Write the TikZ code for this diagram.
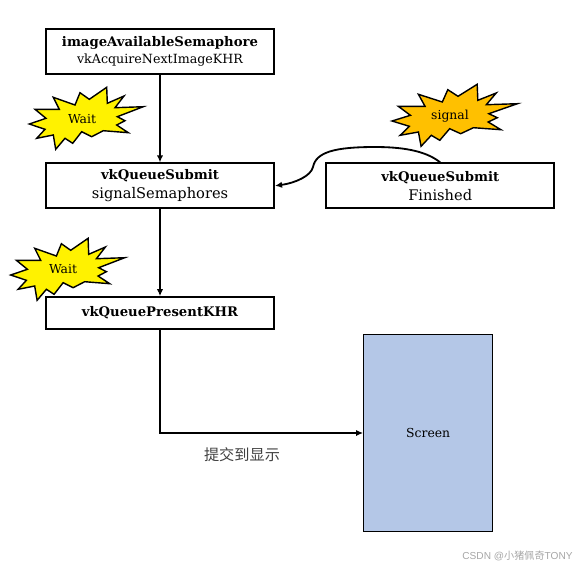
\documentclass[tikz,border=0pt]{standalone}
\usepackage{fontspec}
\usetikzlibrary{arrows.meta}
\setmainfont{DejaVu Serif}
\newfontfamily\cjk{Noto Sans CJK SC}
\newfontfamily\wmfont{Liberation Sans}
\definecolor{signalfill}{RGB}{255,192,0}
\definecolor{screenfill}{RGB}{180,199,231}
\tikzset{
    stepbox/.style={draw, line width=1.4pt, inner sep=0pt, align=center, fill=white, minimum width=5.7cm, font=\fontsize{9.4}{13.2}\selectfont},
    flow/.style={line width=1.3pt, -{Latex[length=5pt,width=4.5pt]}},
    burst/.style={draw=black, line width=1pt},
    burstlabel/.style={font=\fontsize{8.8}{10}\selectfont}
}
\newcommand{\burstshape}{(-52.7,5) -- (-36,-0.7) -- (-47,-9.7) -- (-22.7,-9.7) -- (-28.7,-21.7) -- (-7,-14)
    -- (-2,-26.3) -- (7.3,-19.7) -- (24.7,-31.7) -- (25.3,-15.7) -- (42,-23) -- (33,-11.3) -- (61.3,-12.3)
    -- (35.3,-2.3) -- (43,1.7) -- (34.7,6) -- (46.3,13.7) -- (21.3,11.7) -- (9.7,17.7) -- (-0.3,12.7)
    -- (-9.3,24.3) -- (-17,19.3) -- (-26.3,30.3) -- (-28.7,16) -- (-45.3,19.3) -- (-37,10.3) -- cycle}
\begin{document}
\begin{tikzpicture}[x=0.025cm, y=-0.025cm]
    \useasboundingbox (0,0) rectangle (576,567);
    % stars sit under the boxes
    \draw[burst, fill=yellow, shift={(82,119)}] \burstshape;
    \draw[burst, fill=yellow, shift={(63.4,270)}] \burstshape;
    \draw[burst, fill=signalfill, shift={(450,116)}, xscale=1.1] \burstshape;
    \node[burstlabel] (waitone) at (82,119.5) {Wait};
    \node[burstlabel] (waittwo) at (63,269.5) {Wait};
    \node[burstlabel] (signal) at (450,116.5) {signal};
    % boxes
    \node[stepbox, minimum height=1.12cm] (acquire) at (160,51.2) {\textbf{imageAvailableSemaphore}\\[-1.5pt]{\fontsize{9}{10.5}\selectfont vkAcquireNextImageKHR}};
    \node[stepbox, minimum height=1.12cm] (submit) at (160,185.8) {\textbf{vkQueueSubmit}\\{\fontsize{10.4}{12}\selectfont signalSemaphores}};
    \node[stepbox, minimum height=1.12cm] (finished) at (440.2,185.8) {\textbf{vkQueueSubmit}\\{\fontsize{10.4}{12}\selectfont Finished}};
    \node[stepbox, minimum height=0.79cm] (present) at (160,313) {\textbf{vkQueuePresentKHR}};
    \node[draw, line width=1pt, fill=screenfill, minimum width=3.22cm, minimum height=4.92cm, inner sep=0pt, font=\fontsize{8.8}{10}\selectfont] (screen) at (428.2,433) {Screen};
    % connectors
    \draw[flow] (acquire) -- (submit);
    \draw[flow] (submit) -- (present);
    \draw[flow] (present.south) |- (screen.west);
    \draw[flow] (finished.north) .. controls (425,150) and (400,147) .. (375,147)
        .. controls (335,147) and (316,152) .. (313,167)
        .. controls (311,176) and (295,183) .. (submit.east);
    \node[font=\cjk\fontsize{10.8}{12}\selectfont, text=black!75] (display) at (242,455) {提交到显示};
    \node[font=\wmfont\fontsize{7.2}{9}\selectfont, text=black!35] (mark) at (517.5,556) {CSDN @{\cjk 小猪佩奇}TONY};
\end{tikzpicture}
\end{document}
